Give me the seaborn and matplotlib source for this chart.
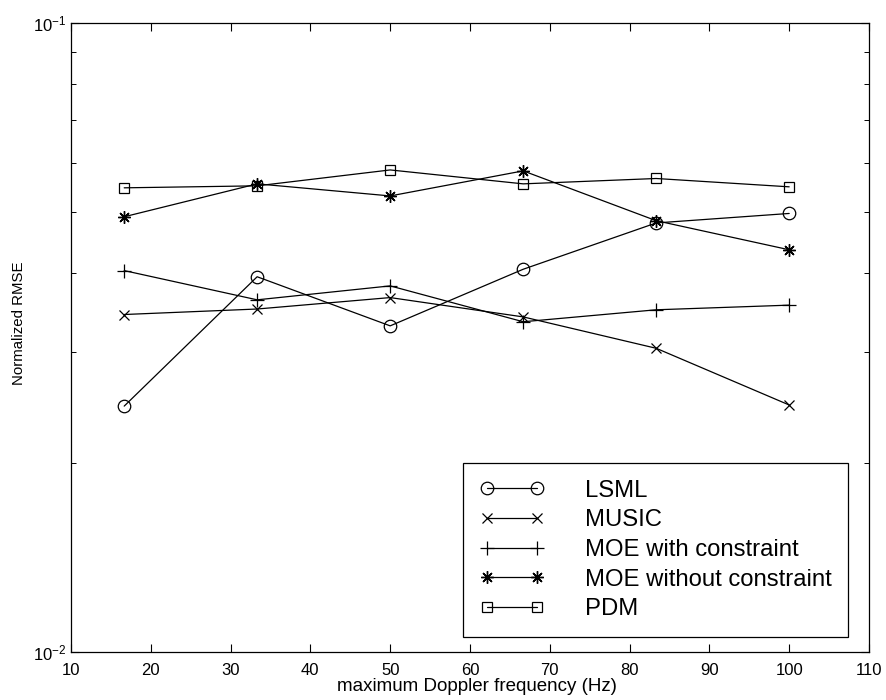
import numpy as np
import pandas as pd
import matplotlib
matplotlib.use("Agg")
import matplotlib.pyplot as plt
from matplotlib.ticker import NullFormatter, LogLocator
import seaborn as sns

# Maximum Doppler frequencies (Hz)
doppler = [16.67, 33.33, 50.0, 66.67, 83.33, 100.0]

# Normalized RMSE for each estimator
lsml = [0.0246, 0.0395, 0.0330, 0.0406, 0.0481, 0.0498]
music = [0.0344, 0.0351, 0.0366, 0.0341, 0.0304, 0.0247]
moe_with = [0.0404, 0.0363, 0.0382, 0.0335, 0.0350, 0.0356]
moe_without = [0.0492, 0.0555, 0.0531, 0.0582, 0.0485, 0.0436]
pdm = [0.0547, 0.0551, 0.0584, 0.0555, 0.0566, 0.0549]

series_names = ["LSML", "MUSIC", "MOE with constraint",
                "MOE without constraint", "PDM"]
series_values = [lsml, music, moe_with, moe_without, pdm]

sns.set_theme(style="white")
plt.rcParams["font.family"] = ["Liberation Sans", "DejaVu Sans"]
plt.rcParams["mathtext.fontset"] = "custom"
plt.rcParams["mathtext.rm"] = "Liberation Sans"
plt.rcParams["text.color"] = "black"
plt.rcParams["axes.labelcolor"] = "black"
plt.rcParams["xtick.color"] = "black"
plt.rcParams["ytick.color"] = "black"

df = pd.DataFrame({
    "freq": np.tile(doppler, len(series_names)),
    "rmse": np.concatenate(series_values),
    "method": np.repeat(series_names, len(doppler)),
})

marker_style = {
    "LSML": dict(marker="o", markersize=9, fillstyle="none", markeredgewidth=0.9),
    "MUSIC": dict(marker="x", markersize=7, markeredgewidth=0.9),
    "MOE with constraint": dict(marker="+", markersize=10, markeredgewidth=0.9),
    "MOE without constraint": dict(marker=(8, 2, 0), markersize=9, markeredgewidth=1.0),
    "PDM": dict(marker="s", markersize=7, fillstyle="none", markeredgewidth=0.9),
}

fig = plt.figure(figsize=(8.86, 7.0), dpi=100)
ax = fig.add_axes([0.0801, 0.0686, 0.9007, 0.8985])

for name in series_names:
    sub = df[df["method"] == name]
    sns.lineplot(data=sub, x="freq", y="rmse", ax=ax, color="black",
                 linewidth=0.9, label=name, markeredgecolor="black",
                 **marker_style[name])

ax.set_yscale("log")
ax.set_xlim(10, 110)
ax.set_ylim(1e-2, 1e-1)
ax.set_xticks(np.arange(10, 111, 10))
ax.yaxis.set_minor_locator(LogLocator(base=10, subs=np.arange(2, 10)))
ax.yaxis.set_minor_formatter(NullFormatter())

for side in ["left", "right", "top", "bottom"]:
    ax.spines[side].set_visible(True)
    ax.spines[side].set_color("black")
    ax.spines[side].set_linewidth(0.9)

ax.tick_params(which="major", direction="in", length=6, width=0.8,
               top=True, right=True, labelsize=12, colors="black",
               bottom=True, left=True)
ax.tick_params(axis="x", which="major", pad=8)
ax.tick_params(axis="y", which="minor", direction="in", length=3.5, width=0.7,
               left=True, right=True)
ax.tick_params(axis="x", which="minor", bottom=False, top=False)

ax.set_xlabel("maximum Doppler frequency (Hz)", fontsize=13.5)
ax.xaxis.set_label_coords(0.509, -0.041)
ax.xaxis.label.set_verticalalignment("top")
ax.set_ylabel("Normalized RMSE", fontsize=10.8)
ax.yaxis.set_label_coords(-0.056, 0.523)

leg = ax.legend(loc="lower right", bbox_to_anchor=(0.974, 0.024),
                fontsize=17.2, numpoints=2, handlelength=2.7,
                labelspacing=0.32, handletextpad=1.7,
                borderpad=0.7, borderaxespad=0, fancybox=False,
                framealpha=1, edgecolor="black")
leg.get_frame().set_linewidth(0.9)
for t in leg.get_texts():
    t.set_color("black")

fig.savefig("out.png", dpi=100)
